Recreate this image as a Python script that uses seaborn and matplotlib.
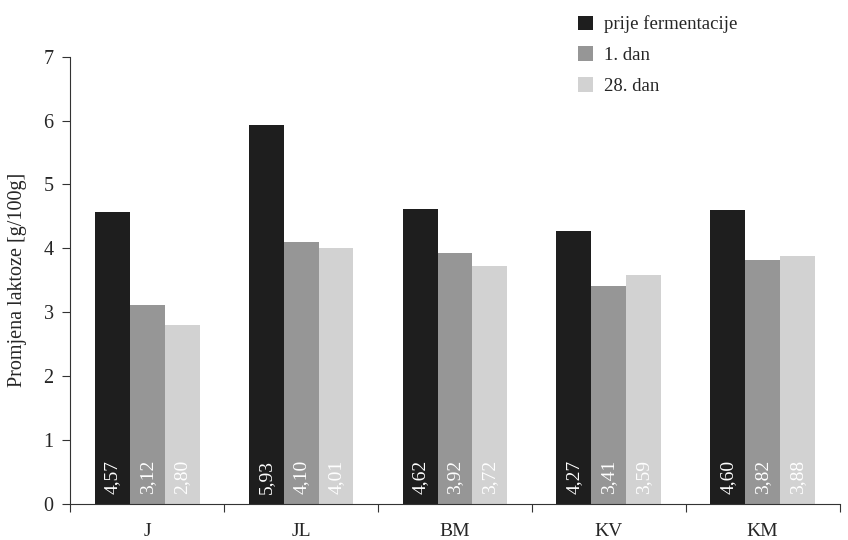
import pandas as pd
import matplotlib.pyplot as plt
import seaborn as sns

# data
categories = ['J', 'JL', 'BM', 'KV', 'KM']
series = ['prije fermentacije', '1. dan', '28. dan']
prije = [4.57, 5.93, 4.62, 4.27, 4.60]
dan1 = [3.12, 4.10, 3.92, 3.41, 3.82]
dan28 = [2.80, 4.01, 3.72, 3.59, 3.88]
colors = ['#1e1e1e', '#969696', '#d2d2d2']

df = pd.DataFrame({
    'uzorak': categories * 3,
    'serija': [series[0]] * 5 + [series[1]] * 5 + [series[2]] * 5,
    'laktoza': prije + dan1 + dan28,
})

sns.set_style('ticks')
plt.rcParams['font.family'] = ['Liberation Serif', 'DejaVu Serif']

fig = plt.figure(figsize=(8.48, 5.4), dpi=100)
ax = fig.add_axes([0.083, 0.067, 0.907, 0.828])

sns.barplot(data=df, x='uzorak', y='laktoza', hue='serija', hue_order=series,
            palette=colors, width=0.68, gap=0, saturation=1, ax=ax,
            edgecolor='none', legend=True)

# value labels inside the bars
for cont in ax.containers:
    labels = [f'{v:.2f}'.replace('.', ',') for v in cont.datavalues]
    for bar, lab in zip(cont, labels):
        ax.text(bar.get_x() + bar.get_width() / 2, 0.15, lab, rotation=90,
                ha='center', va='bottom', color='white', fontsize=14)

ax.set_ylim(0, 7)
ax.set_xlim(-0.5, 4.5)
ax.set_yticks(range(0, 8))
ax.set_xlabel('')
ax.set_ylabel('Promjena laktoze [g/100g]', fontsize=14.5, labelpad=12)

# category ticks at group boundaries
ax.set_xticks([i - 0.5 for i in range(6)], minor=True)
ax.tick_params(axis='x', which='major', length=0, pad=14, labelsize=14)
ax.tick_params(axis='x', which='minor', bottom=True, length=6, direction='out', width=0.8, color='#333333')
ax.tick_params(axis='y', left=True, length=6, direction='out', width=0.8, color='#333333', labelsize=14.5, pad=6)

sns.despine(ax=ax)
for s in ['left', 'bottom']:
    ax.spines[s].set_color('#333333')
    ax.spines[s].set_linewidth(0.8)

leg = ax.legend(loc='upper left', bbox_to_anchor=(0.638, 1.13), frameon=False,
                fontsize=13.5, handlelength=0.8, handleheight=0.8, labelspacing=0.7,
                handletextpad=0.6)

fig.savefig('out.png', dpi=100)
